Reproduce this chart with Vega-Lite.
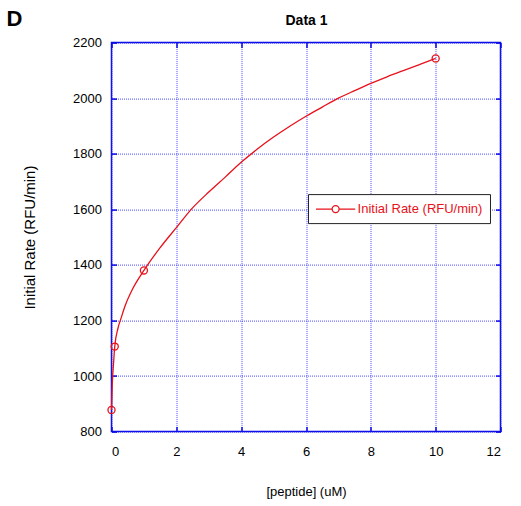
{
  "$schema": "https://vega.github.io/schema/vega-lite/v6.json",
  "width": 389,
  "height": 389,
  "autosize": {"type": "none"},
  "padding": {"left": 111.5, "top": 42.6, "right": 20, "bottom": 74},
  "background": "white",
  "title": {"text": "D", "anchor": "start", "frame": "bounds", "font": "Liberation Sans", "fontSize": 22, "fontWeight": "bold", "color": "black", "dx": -16, "dy": 17, "offset": 0},
  "config": {
    "view": {"stroke": "#0a0ae6", "strokeWidth": 1.5},
    "axis": {
      "labelFont": "Liberation Sans", "labelFontSize": 13, "labelColor": "black",
      "titleFont": "Liberation Sans", "titleFontSize": 13, "titleFontWeight": "normal", "titleColor": "black",
      "domain": false, "gridColor": "#2a2aff", "gridDash": [1, 1], "gridOpacity": 0.85, "gridWidth": 1,
      "tickColor": "#0a0ae6", "tickWidth": 1.5
    }
  },
  "datasets": {
    "fit": [
      {"x": 0, "y": 878}, {"x": 0.025, "y": 974}, {"x": 0.06, "y": 1040}, {"x": 0.1, "y": 1106},
      {"x": 0.2, "y": 1172}, {"x": 0.3, "y": 1210}, {"x": 0.42, "y": 1253}, {"x": 0.62, "y": 1306},
      {"x": 1.0, "y": 1380}, {"x": 1.5, "y": 1462}, {"x": 2.0, "y": 1534}, {"x": 2.5, "y": 1605},
      {"x": 3.0, "y": 1662}, {"x": 3.5, "y": 1715}, {"x": 4.0, "y": 1769}, {"x": 4.5, "y": 1817},
      {"x": 5.0, "y": 1860}, {"x": 5.5, "y": 1899}, {"x": 6.0, "y": 1935}, {"x": 6.5, "y": 1968},
      {"x": 7.0, "y": 2000}, {"x": 7.5, "y": 2027}, {"x": 8.0, "y": 2053}, {"x": 8.5, "y": 2077},
      {"x": 9.0, "y": 2099}, {"x": 9.5, "y": 2121}, {"x": 10.0, "y": 2143}
    ],
    "obs": [
      {"x": 0, "y": 878}, {"x": 0.1, "y": 1106}, {"x": 1, "y": 1380}, {"x": 10, "y": 2143}
    ]
  },
  "layer": [
    {
      "data": {"name": "fit"},
      "mark": {"type": "line", "strokeWidth": 1.3, "clip": false, "interpolate": "monotone"},
      "encoding": {
        "x": {"field": "x", "type": "quantitative", "scale": {"domain": [0, 12], "nice": false},
              "axis": {"orient": "bottom", "title": "[peptide] (uM)", "values": [0, 2, 4, 6, 8, 10, 12], "tickSize": -5, "labelPadding": 19, "titlePadding": 27, "grid": true}},
        "y": {"field": "y", "type": "quantitative", "scale": {"domain": [800, 2200], "nice": false, "zero": false},
              "axis": {"orient": "left", "title": "Initial Rate (RFU/min)", "titleFontSize": 15, "format": "d", "values": [800, 1000, 1200, 1400, 1600, 1800, 2000, 2200], "tickSize": -5, "labelPadding": 15, "titlePadding": 35, "grid": true}},
        "color": {"datum": "Initial Rate (RFU/min)", "type": "nominal", "scale": {"range": ["#e8101a"]},
                  "legend": {"title": null, "orient": "none", "legendX": 196.5, "legendY": 151.5,
                             "strokeColor": "#222222", "fillColor": "white", "padding": 7,
                             "symbolType": "M-2.8,0H-0.5M0.5,0H2.8M0.5,0A0.5,0.5 0 1,0 -0.5,0A0.5,0.5 0 1,0 0.5,0",
                             "symbolSize": 196, "symbolOffset": 12.6, "symbolStrokeWidth": 1.3, "symbolFillColor": "transparent", "symbolStrokeColor": "#e8101a",
                             "labelFont": "Liberation Sans", "labelFontSize": 13, "labelColor": "#e8101a", "labelOffset": 14}}
      }
    },
    {
      "data": {"name": "obs"},
      "mark": {"type": "point", "filled": false, "size": 50, "strokeWidth": 1.3, "opacity": 1, "clip": false},
      "encoding": {
        "x": {"field": "x", "type": "quantitative", "scale": {"domain": [0, 12], "nice": false},
              "axis": {"orient": "top", "title": "Data 1", "titleFontSize": 14, "titleFontWeight": "bold", "titlePadding": 14, "labels": false, "values": [0, 2, 4, 6, 8, 10, 12], "tickSize": -5, "grid": false}},
        "y": {"field": "y", "type": "quantitative", "scale": {"domain": [800, 2200], "nice": false, "zero": false},
              "axis": {"orient": "right", "title": null, "labels": false, "values": [800, 1000, 1200, 1400, 1600, 1800, 2000, 2200], "tickSize": -5, "grid": false}},
        "color": {"datum": "Initial Rate (RFU/min)", "type": "nominal"}
      }
    }
  ],
  "resolve": {"axis": {"x": "independent", "y": "independent"}}
}
